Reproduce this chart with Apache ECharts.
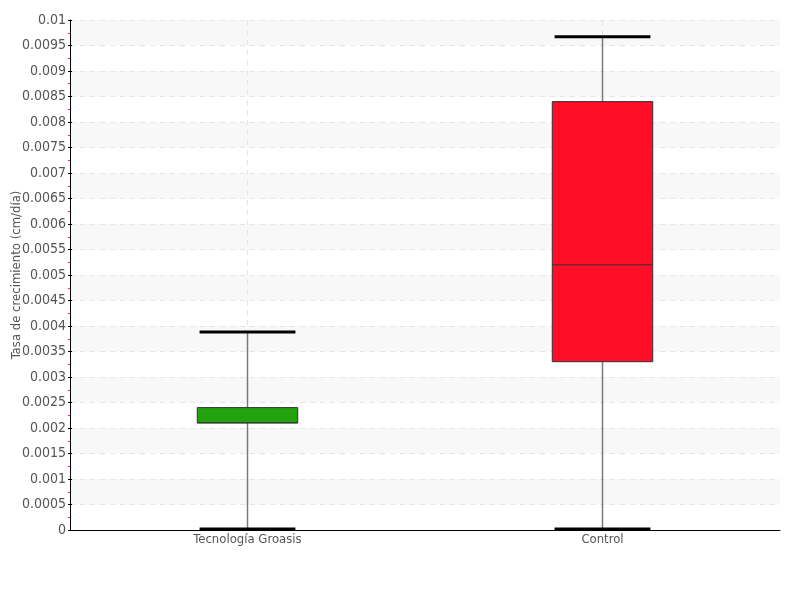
<!DOCTYPE html>
<html>
<head>
<meta charset="utf-8">
<script src="https://cdn.jsdelivr.net/npm/echarts@6/dist/echarts.min.js"></script>
<style>html,body{margin:0;padding:0;background:#fff}#c{width:800px;height:600px}</style>
</head>
<body>
<div id="c"></div>
<script>
const categories = ['Tecnología Groasis', 'Control'];
const minVals = [0.00002, 0.00002];
const q1Vals = [0.0021, 0.0033];
const medianVals = [0.0021, 0.0052];
const q3Vals = [0.0024, 0.0084];
const maxVals = [0.00388, 0.00967];
const boxColors = ['#22a30e', '#ff0e2a'];

const FONT = '"DejaVu Sans Condensed", "Liberation Sans Narrow", sans-serif';
const chart = echarts.init(document.getElementById('c'), null, {renderer: 'canvas'});

const data = categories.map((c, i) => [i, minVals[i], q1Vals[i], medianVals[i], q3Vals[i], maxVals[i]]);

const yBase = {
  type: 'value', min: 0, max: 0.01, interval: 0.0005, gridIndex: 0, position: 'left', offset: 0
};

chart.setOption({
  animation: false,
  grid: {left: 70, right: 20, top: 20, bottom: 70, containLabel: false, outerBoundsMode: 'none'},
  xAxis: {
    type: 'category',
    data: categories,
    axisLine: {lineStyle: {color: '#000', width: 1}},
    axisTick: {show: false},
    axisLabel: {color: '#555', fontFamily: FONT, fontSize: 13, margin: 3},
    splitLine: {show: true, alignWithLabel: true, lineStyle: {type: [5, 5], color: '#e6e6e6'}}
  },
  yAxis: [
    Object.assign({}, yBase, {
      name: 'Tasa de crecimiento (cm/día)',
      nameLocation: 'middle',
      nameGap: 47,
      nameRotate: 90,
      nameMoveOverlap: false,
      nameTextStyle: {color: '#555', fontFamily: FONT, fontSize: 13},
      axisLine: {show: true, lineStyle: {color: '#000', width: 1}},
      axisTick: {show: true, length: 2, lineStyle: {color: '#000'}},
      minorTick: {show: true, splitNumber: 2, length: 2, lineStyle: {color: '#ff2a2a'}},
      axisLabel: {color: '#555', fontFamily: FONT, fontSize: 14, margin: 4},
      splitLine: {show: true, lineStyle: {type: [5, 5], color: '#e6e6e6'}},
      splitArea: {show: true, areaStyle: {color: ['rgba(255,255,255,0)', '#f8f8f8']}}
    }),
    Object.assign({}, yBase, {
      axisLine: {show: false},
      axisTick: {show: true, inside: true, length: 2, lineStyle: {color: '#000'}},
      axisLabel: {show: false},
      splitLine: {show: false},
      splitArea: {show: false}
    })
  ],
  series: [{
    type: 'custom',
    xAxisIndex: 0,
    yAxisIndex: 0,
    encode: {x: 0, y: [1, 2, 3, 4, 5]},
    data: data,
    z: 5,
    renderItem: function (params, api) {
      const idx = api.value(0);
      const xc = api.coord([idx, 0])[0];
      const band = api.size([1, 0])[0];
      const bw = band * 0.283;
      const cw = band * 0.27;
      const yMin = api.coord([idx, api.value(1)])[1];
      const yQ1 = api.coord([idx, api.value(2)])[1];
      const yMed = api.coord([idx, api.value(3)])[1];
      const yQ3 = api.coord([idx, api.value(4)])[1];
      const yMax = api.coord([idx, api.value(5)])[1];
      return {
        type: 'group',
        children: [
          {type: 'line', shape: {x1: xc, y1: yMin, x2: xc, y2: yMax},
           style: {stroke: '#7a7a7a', lineWidth: 1.5}},
          {type: 'rect', shape: {x: xc - bw / 2, y: yQ3, width: bw, height: yQ1 - yQ3},
           style: {fill: boxColors[idx], stroke: '#333', lineWidth: 1}},
          {type: 'line', shape: {x1: xc - bw / 2, y1: yMed, x2: xc + bw / 2, y2: yMed},
           style: {stroke: '#333', lineWidth: 1}},
          {type: 'line', shape: {x1: xc - cw / 2, y1: yMax, x2: xc + cw / 2, y2: yMax},
           style: {stroke: '#000', lineWidth: 3}},
          {type: 'line', shape: {x1: xc - cw / 2, y1: yMin, x2: xc + cw / 2, y2: yMin},
           style: {stroke: '#000', lineWidth: 3}}
        ]
      };
    }
  }]
});
</script>
</body>
</html>
